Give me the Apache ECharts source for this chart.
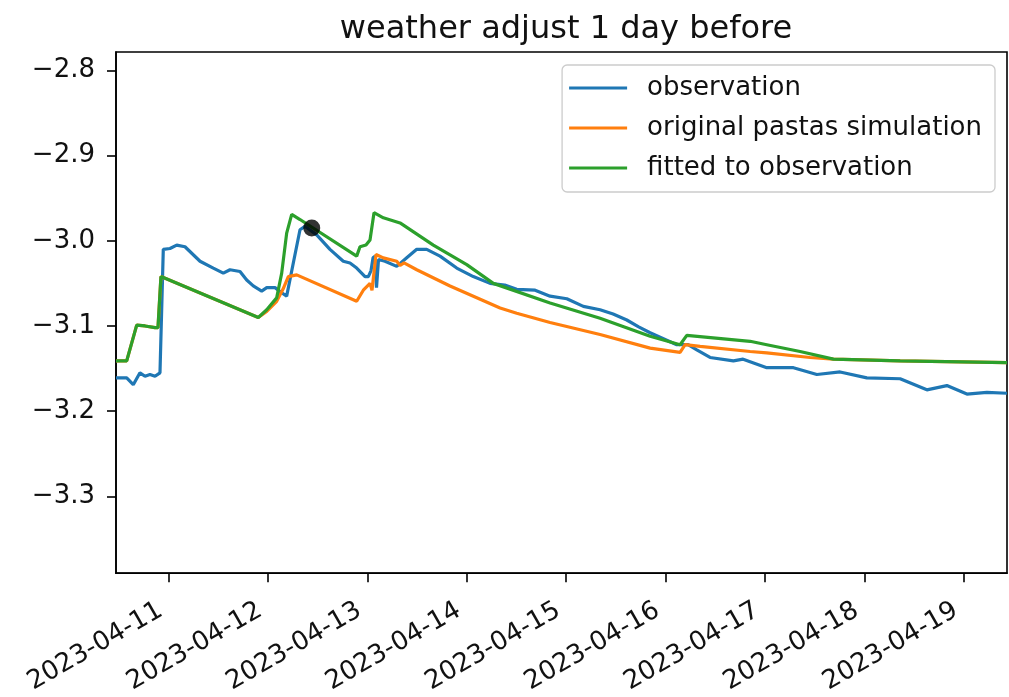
<!DOCTYPE html>
<html>
<head>
<meta charset="utf-8">
<script src="https://cdn.jsdelivr.net/npm/echarts@6/dist/echarts.min.js"></script>
<style>
  html, body { margin: 0; padding: 0; background: #fff; }
  #chart { width: 1009px; height: 697px; }
</style>
</head>
<body>
<div id="chart"></div>
<script>
// Groundwater head series (m), timestamps in local time
const obsTime = ['2023-04-10 11:20','2023-04-10 13:55','2023-04-10 15:30','2023-04-10 17:07','2023-04-10 18:20','2023-04-10 19:32','2023-04-10 20:45','2023-04-10 21:57','2023-04-10 22:45','2023-04-11 00:22','2023-04-11 01:59','2023-04-11 03:59','2023-04-11 07:37','2023-04-11 10:49','2023-04-11 13:14','2023-04-11 14:51','2023-04-11 17:16','2023-04-11 18:53','2023-04-11 20:28','2023-04-11 22:30','2023-04-11 23:43','2023-04-12 01:43','2023-04-12 03:20','2023-04-12 04:32','2023-04-12 06:08','2023-04-12 07:45','2023-04-12 08:57','2023-04-12 11:47','2023-04-12 14:59','2023-04-12 18:12','2023-04-12 19:49','2023-04-12 21:26','2023-04-12 23:27','2023-04-13 00:15','2023-04-13 00:54','2023-04-13 01:23','2023-04-13 01:52','2023-04-13 02:13','2023-04-13 02:42','2023-04-13 04:16','2023-04-13 07:06','2023-04-13 09:31','2023-04-13 11:56','2023-04-13 14:20','2023-04-13 17:33','2023-04-13 21:35','2023-04-14 01:35','2023-04-14 05:38','2023-04-14 09:10','2023-04-14 12:04','2023-04-14 16:30','2023-04-14 20:07','2023-04-15 00:10','2023-04-15 04:09','2023-04-15 08:11','2023-04-15 11:20','2023-04-15 14:38','2023-04-15 17:30','2023-04-15 20:16','2023-04-16 02:42','2023-04-16 05:26','2023-04-16 07:32','2023-04-16 10:44','2023-04-16 16:22','2023-04-16 18:43','2023-04-17 00:26','2023-04-17 06:52','2023-04-17 12:31','2023-04-17 18:08','2023-04-18 00:35','2023-04-18 08:37','2023-04-18 15:04','2023-04-18 19:54','2023-04-19 00:44','2023-04-19 05:34','2023-04-19 10:25'];
const obsValue = [-3.161,-3.161,-3.169,-3.155,-3.159,-3.157,-3.159,-3.155,-3.010,-3.009,-3.005,-3.007,-3.024,-3.032,-3.038,-3.034,-3.036,-3.046,-3.053,-3.059,-3.055,-3.055,-3.061,-3.065,-3.026,-2.987,-2.983,-2.993,-3.010,-3.024,-3.026,-3.032,-3.042,-3.042,-3.035,-3.020,-3.018,-3.055,-3.022,-3.024,-3.030,-3.020,-3.010,-3.010,-3.018,-3.032,-3.042,-3.050,-3.052,-3.057,-3.058,-3.065,-3.068,-3.077,-3.081,-3.086,-3.093,-3.101,-3.108,-3.122,-3.122,-3.128,-3.137,-3.141,-3.139,-3.149,-3.149,-3.157,-3.154,-3.161,-3.162,-3.175,-3.170,-3.180,-3.178,-3.179];

const simTime = ['2023-04-10 11:20','2023-04-10 13:55','2023-04-10 16:20','2023-04-10 18:20','2023-04-10 20:45','2023-04-10 21:28','2023-04-10 22:11','2023-04-11 21:41','2023-04-11 23:43','2023-04-12 02:07','2023-04-12 03:38','2023-04-12 04:56','2023-04-12 06:57','2023-04-12 21:26','2023-04-12 23:02','2023-04-13 00:39','2023-04-13 01:08','2023-04-13 02:06','2023-04-13 03:52','2023-04-13 07:06','2023-04-13 07:54','2023-04-13 08:52','2023-04-13 11:56','2023-04-13 19:58','2023-04-14 08:03','2023-04-14 12:04','2023-04-14 20:07','2023-04-15 08:11','2023-04-15 20:16','2023-04-16 03:30','2023-04-16 04:43','2023-04-16 08:20','2023-04-16 20:24','2023-04-17 00:26','2023-04-17 10:53','2023-04-17 16:31','2023-04-18 08:37','2023-04-19 10:25'];
const simValue = [-3.141,-3.141,-3.099,-3.100,-3.102,-3.102,-3.042,-3.090,-3.083,-3.071,-3.057,-3.042,-3.040,-3.071,-3.058,-3.050,-3.058,-3.016,-3.020,-3.024,-3.029,-3.026,-3.034,-3.053,-3.079,-3.085,-3.096,-3.110,-3.126,-3.131,-3.122,-3.124,-3.130,-3.1315,-3.137,-3.139,-3.141,-3.143];

const fitTime = ['2023-04-10 11:20','2023-04-10 13:55','2023-04-10 16:20','2023-04-10 18:20','2023-04-10 20:45','2023-04-10 21:28','2023-04-10 22:11','2023-04-11 21:41','2023-04-11 23:43','2023-04-12 02:07','2023-04-12 03:20','2023-04-12 04:32','2023-04-12 05:45','2023-04-12 07:45','2023-04-12 21:26','2023-04-12 22:14','2023-04-12 23:41','2023-04-13 00:39','2023-04-13 01:37','2023-04-13 03:52','2023-04-13 07:54','2023-04-13 15:56','2023-04-14 00:00','2023-04-14 06:25','2023-04-14 20:07','2023-04-15 08:11','2023-04-15 20:16','2023-04-16 03:30','2023-04-16 05:07','2023-04-16 20:24','2023-04-17 00:26','2023-04-17 08:28','2023-04-17 16:31','2023-04-18 08:37','2023-04-19 10:25'];
const fitValue = [-3.141,-3.141,-3.099,-3.100,-3.102,-3.102,-3.042,-3.090,-3.081,-3.067,-3.038,-2.991,-2.969,-2.975,-3.018,-3.007,-3.005,-2.999,-2.967,-2.973,-2.979,-3.005,-3.028,-3.050,-3.073,-3.091,-3.112,-3.122,-3.111,-3.118,-3.122,-3.130,-3.139,-3.141,-3.143];

// highlighted moment on the fitted curve
const markTime = ['2023-04-12 10:35'];
const markValue = [-2.985];

// axis ticks
const xTicks = ['2023-04-11','2023-04-12','2023-04-13','2023-04-14','2023-04-15','2023-04-16','2023-04-17','2023-04-18','2023-04-19'];
const yTicks = [-3.3, -3.2, -3.1, -3.0, -2.9, -2.8];
const xRange = ['2023-04-10 11:20', '2023-04-19 10:25'];
const yRange = [-3.3903, -2.7783];

const seriesNames = ['observation', 'original pastas simulation', 'fitted to observation'];
const seriesColors = ['#1f77b4', '#ff7f0e', '#2ca02c'];

// timestamps are handled as epoch milliseconds on a linear value axis
function toMs(s) {
  const [d, t] = s.split(' ');
  const [Y, M, D] = d.split('-').map(Number);
  const [h, m] = (t || '00:00').split(':').map(Number);
  return Date.UTC(Y, M - 1, D, h, m);
}
function pairs(ts, vs) { return ts.map((t, i) => [toMs(t), vs[i]]); }
function pad2(n) { return (n < 10 ? '0' : '') + n; }
function dayLabel(v) {
  const d = new Date(Math.round(v));
  return d.getUTCFullYear() + '-' + pad2(d.getUTCMonth() + 1) + '-' + pad2(d.getUTCDate());
}

const FONT = 'DejaVu Sans';
const TXT = '#111';
const AXIS_LINE = { color: '#000', width: 1.6 };

const chart = echarts.init(document.getElementById('chart'), null, { renderer: 'canvas' });

const lineSeries = [obsTime, simTime, fitTime].map((ts, i) => ({
  name: seriesNames[i],
  type: 'line',
  data: pairs(ts, [obsValue, simValue, fitValue][i]),
  symbol: 'none',
  lineStyle: { color: seriesColors[i], width: 3.2 },
  itemStyle: { color: seriesColors[i] },
  z: 2 + i
}));

const xTickMs = xTicks.map(toMs);

chart.setOption({
  animation: false,
  title: {
    text: 'weather adjust 1 day before',
    left: 561,
    top: 9,
    textAlign: 'center',
    textStyle: { fontFamily: FONT, fontSize: 32, fontWeight: 'normal', color: TXT }
  },
  legend: {
    data: seriesNames,
    orient: 'vertical',
    right: 14,
    top: 65,
    padding: [9, 13, 10, 7],
    icon: 'rect',
    itemWidth: 58,
    itemHeight: 3,
    itemGap: 12,
    backgroundColor: 'rgba(255,255,255,0.85)',
    borderColor: '#cccccc',
    borderWidth: 1.3,
    borderRadius: 5,
    textStyle: { fontFamily: FONT, fontSize: 26, color: TXT, lineHeight: 28, padding: [0, 0, 0, 15] }
  },
  grid: {
    left: 116, right: 2, top: 52, bottom: 123,
    show: true, borderColor: '#000', borderWidth: 1.6, backgroundColor: 'transparent'
  },
  xAxis: [{
    // labelled time axis
    type: 'value',
    min: toMs(xRange[0]),
    max: toMs(xRange[1]),
    splitLine: { show: false },
    axisLine: { show: true, lineStyle: AXIS_LINE },
    axisTick: { show: false },
    axisLabel: {
      customValues: xTickMs,
      rotate: 30,
      margin: 31,
      padding: [0, 9, 0, 0],
      fontFamily: FONT, fontSize: 26, color: TXT,
      formatter: dayLabel
    }
  }, {
    // tick marks only
    type: 'value',
    position: 'bottom',
    min: toMs(xRange[0]),
    max: toMs(xRange[1]),
    splitLine: { show: false },
    axisLine: { show: false },
    axisLabel: { show: false },
    axisTick: { show: true, length: 9, lineStyle: AXIS_LINE, customValues: xTickMs }
  }],
  yAxis: [{
    type: 'value',
    min: yRange[0],
    max: yRange[1],
    splitLine: { show: false },
    axisLine: { show: true, lineStyle: AXIS_LINE },
    axisTick: { show: false },
    axisLabel: {
      customValues: yTicks,
      margin: 21,
      fontFamily: FONT, fontSize: 26, color: TXT,
      formatter: v => v.toFixed(1).replace('-', '\u2212')
    }
  }, {
    type: 'value',
    position: 'left',
    min: yRange[0],
    max: yRange[1],
    splitLine: { show: false },
    axisLine: { show: false },
    axisLabel: { show: false },
    axisTick: { show: true, length: 9, lineStyle: AXIS_LINE, customValues: yTicks }
  }],
  series: lineSeries.concat([{
    name: 'marker',
    type: 'scatter',
    data: pairs(markTime, markValue),
    symbol: 'circle',
    symbolSize: 17,
    itemStyle: { color: '#000' },
    z: 10
  }])
});
</script>
</body>
</html>
